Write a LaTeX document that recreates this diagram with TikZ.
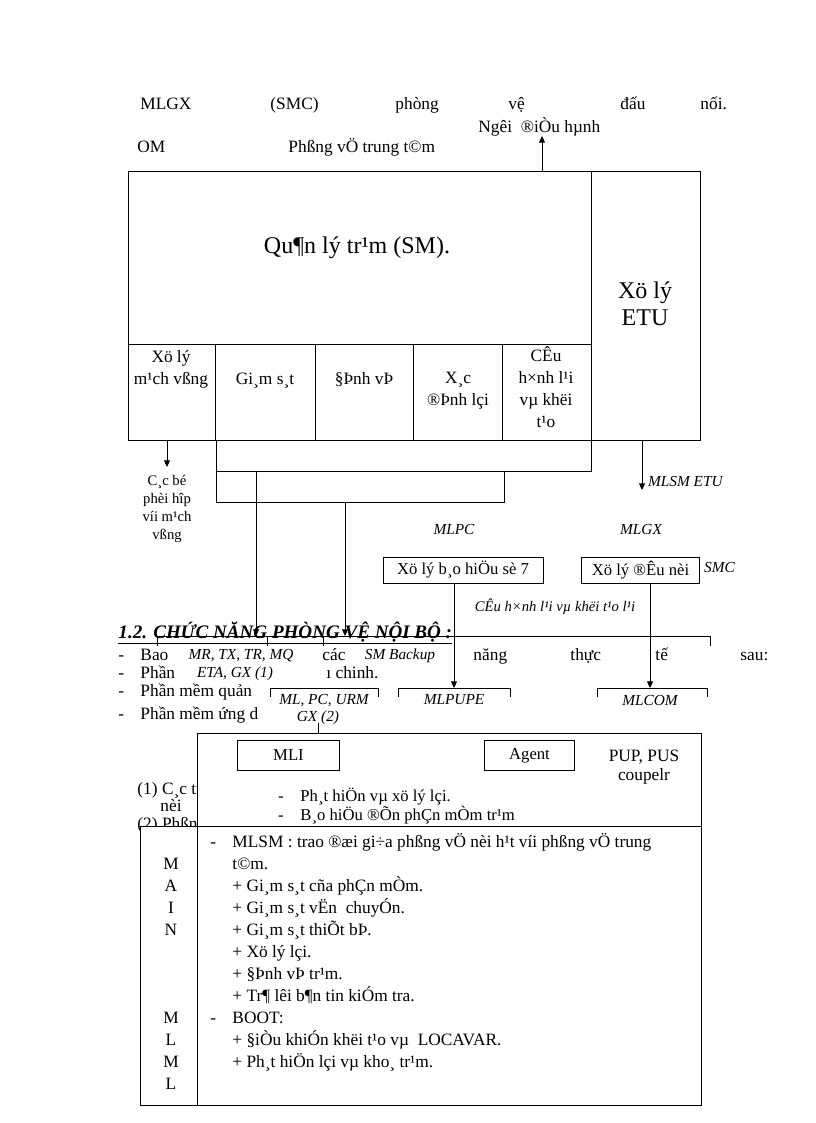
\documentclass[tikz,border=0pt]{standalone}
\usepackage{fontspec}
\setmainfont{Liberation Serif}
\usetikzlibrary{arrows.meta,positioning}

\tikzset{
  txt/.style={inner sep=0pt, font=\fontsize{13}{16.5}\selectfont},
  small/.style={inner sep=0pt, font=\fontsize{11}{13.5}\selectfont},
  lbl/.style={inner sep=0.5pt, font=\fontsize{11.5}{12.75}\selectfont\itshape},
  big/.style={inner sep=0pt, align=center, font=\fontsize{18}{20.25}\selectfont},
  cellbox/.style={txt, align=center, anchor=base},
  procbox/.style={draw, inner sep=0pt, font=\fontsize{12.5}{15}\selectfont, minimum height=19.5pt, line width=0.7pt},
  link/.style={-{Triangle[length=5pt,width=4.5pt]}, line width=0.7pt},
}

\begin{document}
\begin{tikzpicture}[x=0.75pt, y=-0.75pt, line width=0.7pt]
    \useasboundingbox (0,0) rectangle (816,1123);

    % top lines of text
    \node[txt, anchor=base west] (w1) at (140,110) {MLGX};
    \node[txt, anchor=base west] (w2) at (270,110) {(SMC)};
    \node[txt, anchor=base west] (w3) at (395,110) {phòng};
    \node[txt, anchor=base west] (w4) at (508,110) {vệ};
    \node[txt, anchor=base west] (w5) at (620,110) {đấu};
    \node[txt, anchor=base west] (w6) at (700,110) {nối.};
    \node[txt, anchor=base west] (ngoi) at (478,133) {Ngêi\ \ ®iÒu hµnh};
    \node[txt, anchor=base west] (om) at (137,153) {OM};
    \node[txt, anchor=base west] (pvtt) at (288,153) {Phßng vÖ trung t©m};

    % station management block
    \draw (128,171) rectangle (700,440);
    \draw (591,171) -- (591,440);
    \draw (128,344) -- (591,344);
    \draw (215,344) -- (215,440);
    \draw (315,344) -- (315,440);
    \draw (413,344) -- (413,440);
    \draw (502,344) -- (502,440);
    \coordinate (top) at (542,171);
    \draw[link] (top) -- (542,136);

    % multi-line nodes: base = last line
    \node[big, anchor=base] (sm) at (357,253) {Qu¶n lý tr¹m (SM).};
    \node[big, anchor=base] (etu) at (645,325) {Xö lý\\ETU};
    \node[cellbox] (cA) at (171,384) {Xö lý\\m¹ch vßng};
    \node[cellbox] (cB) at (265,384) {Gi¸m s¸t};
    \node[cellbox] (cC) at (364,384) {§Þnh vÞ};
    \node[cellbox] (cD) at (458,405) {X¸c\\®Þnh lçi};
    \node[cellbox] (cE) at (546,427) {CÊu\\h×nh l¹i\\vµ khëi\\t¹o};

    % under the block
    \draw (216,440) -- (216,502) -- (504,502) -- (504,471);
    \draw (216,471) -- (591,471) -- (591,440);
    \coordinate (loopout) at (167,440);
    \coordinate (etuout) at (642,440);
    \draw[link] (loopout) -- (167,467);
    \draw[link] (etuout) -- (642,490);
    \node[small, align=center, anchor=base] (coord) at (167,539) {C¸c bé\\phèi hîp\\víi m¹ch\\vßng};
    \node[lbl, anchor=base west] (mlsmetu) at (647,486) {MLSM ETU};

    \node[lbl, anchor=base] (mlpc) at (454,534) {MLPC};
    \node[lbl, anchor=base] (mlgx) at (641,534) {MLGX};
    \node[procbox, minimum width=120pt] (sig7) at (463,570) {Xö lý b¸o hiÖu sè 7};
    \node[procbox, minimum width=89pt] (conn) at (640.5,570) {Xö lý ®Êu nèi};
    \node[lbl, anchor=base west] (smc) at (703,572) {SMC};
    \node[inner sep=0pt, anchor=base, font=\fontsize{11}{12}\selectfont\itshape] (reinit) at (555,611) {CÊu h×nh l¹i vµ khëi t¹o l¹i};

    % body text
    \node[anchor=base west, inner sep=0pt, font=\fontsize{14.3}{16}\selectfont\bfseries\itshape] (head) at (118,638) {\underline{1.2. CHỨC NĂNG PHÒNG VỆ NỘI BỘ :}};
    \node[txt, anchor=base west] (d1) at (118,660) {-};
    \node[txt, anchor=base west] (bao) at (140,660) {Bao};
    \node[txt, anchor=base west] (cac) at (322,660) {các};
    \node[txt, anchor=base west] (nang) at (473,660) {năng};
    \node[txt, anchor=base west] (thuc) at (570,660) {thực};
    \node[txt, anchor=base west] (te) at (655,660) {tế};
    \node[txt, anchor=base west] (sau) at (740,660) {sau:};
    \node[txt, anchor=base west] (d2) at (118,678) {-};
    \node[txt, anchor=base west] (phan) at (140,678) {Phần};
    \node[txt, anchor=base west] (chinh) at (326,678) {ı chinh.};
    \node[txt, anchor=base west] (d3) at (118,696) {-};
    \node[txt, anchor=base west] (quan) at (140,696) {Phần mềm quản};
    \node[txt, anchor=base west] (d4) at (118,719) {-};
    \node[txt, anchor=base west] (ung) at (140,719) {Phần mềm ứng d};

    \node[lbl, anchor=base] (mrtx) at (241,659) {MR, TX, TR, MQ};
    \node[lbl, anchor=base] (eta) at (235,677) {ETA, GX (1)};
    \node[lbl, anchor=base] (smb) at (400,659) {SM Backup};
    \node[lbl, anchor=base] (mlpcurm) at (324,704) {ML, PC, URM};
    \node[lbl, anchor=base] (gx2) at (318,721) {GX (2)};
    \node[lbl, anchor=base] (mlpupe) at (454,704) {MLPUPE};
    \node[lbl, anchor=base] (mlcom) at (650,705) {MLCOM};

    % brackets
    \draw (157,646) -- (157,636) -- (710,636) -- (710,646);
    \draw (267,636) -- (267,646);
    \draw (323,636) -- (323,646);
    \draw (270,697) -- (270,688) -- (378,688) -- (378,697);
    \draw (398,697) -- (398,688) -- (510,688) -- (510,697);
    \draw (597,697) -- (597,688) -- (707,688) -- (707,697);

    % connectors
    \draw[link] (256,471) -- (256,636);
    \draw[link] (345,502) -- (345,636);
    \draw[link] (sig7.south -| mlpupe) -- (mlpupe |- 0,688);
    \draw[link] (conn.south -| mlcom) -- (mlcom |- 0,688);

    % notes partly hidden by the boxes
    \node[txt, anchor=base west] (n1) at (137,794) {(1) C¸c tuyÕn};
    \node[txt, anchor=base west] (n2) at (160,811) {nèi};
    \node[txt, anchor=base west] (n3) at (137,829) {(2) Phßng};

    % MLI / Agent box
    \draw[fill=white] (197,733) rectangle (701,826);
    \draw (318,723) -- (318,733);
    \node[procbox, minimum width=77pt, minimum height=23pt] (mli) at (288.5,755.5) {MLI};
    \node[procbox, minimum width=67pt, minimum height=23pt] (agent) at (529.5,755.5) {Agent};
    \node[txt, align=center, anchor=base, font=\fontsize{13}{14.25}\selectfont] (pup) at (644,780) {PUP, PUS\\coupelr};
    \node[txt, align=center, anchor=base, font=\fontsize{12.5}{14.25}\selectfont] (dd) at (281,820) {-\\-};
    \node[txt, align=left, anchor=base west, font=\fontsize{12.5}{14.25}\selectfont] (err) at (300,820) {Ph¸t hiÖn vµ xö lý lçi.\\B¸o hiÖu ®Õn phÇn mÒm tr¹m};

    % MAIN / MLML box
    \draw[fill=white] (140,826) rectangle (701,1105);
    \draw (197,826) -- (197,1105);
    \node[txt, align=center, anchor=base] (main) at (171,1089) {M\\A\\I\\N\\~\\~\\~\\M\\L\\M\\L};
    \node[txt, anchor=base west] (d5) at (210,847) {-};
    \node[txt, anchor=base west] (d6) at (210,1023) {-};
    \node[txt, align=left, anchor=base west] (mlsm) at (232,1067) {MLSM : trao ®æi gi÷a phßng vÖ nèi h¹t víi phßng vÖ trung\\t©m.\\+ Gi¸m s¸t cña phÇn mÒm.\\+ Gi¸m s¸t vËn\ \ chuyÓn.\\+ Gi¸m s¸t thiÕt bÞ.\\+ Xö lý lçi.\\+ §Þnh vÞ tr¹m.\\+ Tr¶ lêi b¶n tin kiÓm tra.\\BOOT:\\+ §iÒu khiÓn khëi t¹o vµ\ \ LOCAVAR.\\+ Ph¸t hiÖn lçi vµ kho¸ tr¹m.};
\end{tikzpicture}
\end{document}
